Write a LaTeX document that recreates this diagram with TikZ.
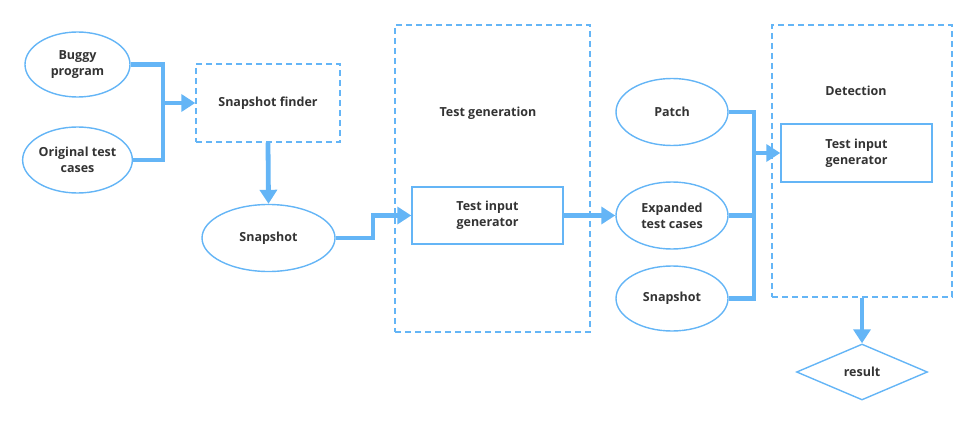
\documentclass[tikz,border=0pt]{standalone}
\usepackage{fontspec}
\setmainfont{Open Sans}
\usetikzlibrary{shapes.geometric,arrows.meta}
\definecolor{lb}{HTML}{64B5F6}
\definecolor{tx}{HTML}{333333}
\begin{document}
\begin{tikzpicture}[x=1pt,y=-1pt,
  every node/.style={font=\bfseries\fontsize{12.5}{16}\selectfont, text=tx, align=center, inner sep=0pt},
  oval/.style={ellipse, draw=lb, line width=1.4pt},
  solidbox/.style={rectangle, draw=lb, line width=1.4pt},
  dashbox/.style={rectangle, draw=lb, line width=1.4pt, dash pattern=on 6pt off 4pt},
  dia/.style={diamond, draw=lb, line width=1.4pt, aspect=2.3},
  conn/.style={draw=lb, line width=4.8pt, line join=miter},
  arr/.style={conn, -{Triangle[length=14pt,width=17pt]}}]
\useasboundingbox (0,0) rectangle (976,425);
% left
\node[oval, minimum width=105pt, minimum height=65pt] (buggy) at (77.5,64.5) {Buggy\\program};
\node[oval, minimum width=105pt, minimum height=66pt] (orig) at (77.5,160) {Original test\\cases};
\node[dashbox, minimum width=144pt, minimum height=78pt] (finder) at (268,103) {Snapshot finder};
\node[oval, minimum width=133pt, minimum height=67pt] (snap) at (268.5,238) {Snapshot};
% test generation
\node[dashbox, minimum width=195pt, minimum height=307pt] (tgen) at (492.5,178.5) {};
\node (tgenl) at (488,113) {Test generation};
\node[solidbox, minimum width=151pt, minimum height=57pt] (tig) at (487.5,215.5) {Test input\\generator};
% right inputs
\node[oval, minimum width=112pt, minimum height=67pt] (patch) at (672,112) {Patch};
\node[oval, minimum width=112pt, minimum height=67pt] (exp) at (672,215.5) {Expanded\\test cases};
\node[oval, minimum width=112pt, minimum height=65pt] (snap2) at (672,298.5) {Snapshot};
% detection
\node[dashbox, minimum width=180pt, minimum height=272pt] (det) at (862,161) {};
\node (detl) at (856,91) {Detection};
\node[solidbox, minimum width=151pt, minimum height=58pt] (tig2) at (856.5,153) {Test input\\generator};
\node[dia, minimum width=131pt, minimum height=56pt] (res) at (862,372) {result};
% connectors
\coordinate (j1) at (163,103);
\coordinate (j2) at (373,238);
\coordinate (bmid) at (754,215.5);
\coordinate (bbot) at (754,298.5);
\coordinate (barr) at (754,153);
\draw[conn] (buggy.east) -| (j1) |- (orig.east);
\draw[arr] (j1) -- (finder.west);
\draw[arr] (finder.south) -- (snap.north);
\draw[arr] (snap.east) -- (j2) |- (tig.west);
\draw[arr] (tig.east) -- (exp.west);
\draw[conn] (patch.east) -| (bbot) -- (snap2.east);
\draw[conn] (exp.east) -- (bmid);
\draw[arr] (barr) -- (tig2.west);
\draw[arr] (det.south -| res.north) -- (res.north);
\end{tikzpicture}
\end{document}
